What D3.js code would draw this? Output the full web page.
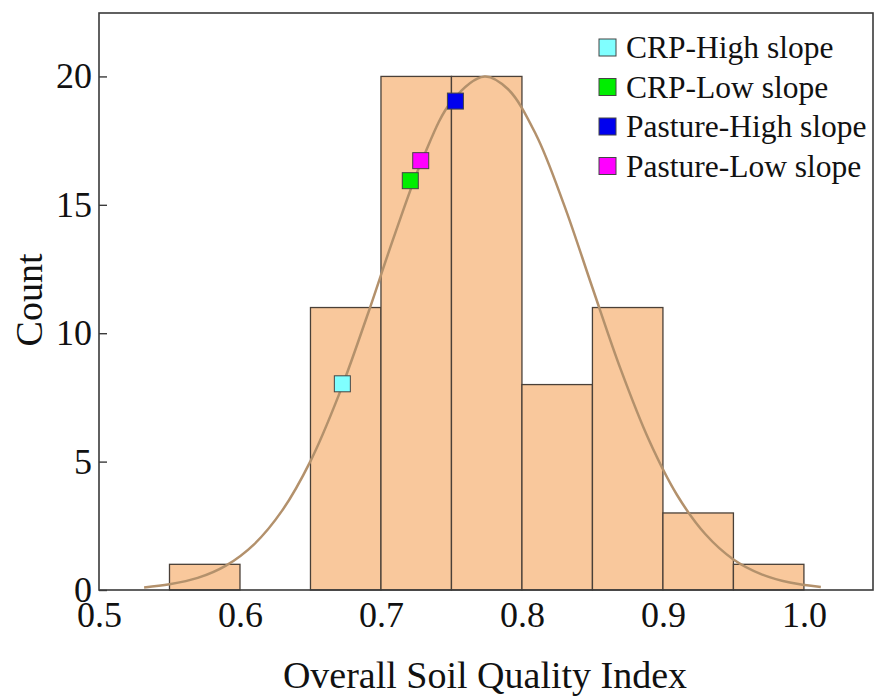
<!DOCTYPE html>
<meta charset="utf-8">
<style>
body { margin: 0; background: #fff; }
text { font-family: "Liberation Serif", "Times New Roman", serif; fill: #111; }
.bar { fill: #f9c89c; stroke: #4a4038; stroke-width: 1.3px; }
.fit { fill: none; stroke: #b3916c; stroke-width: 2.5px; }
.frame { fill: none; stroke: #3a3a3a; stroke-width: 1.6px; }
.mark { stroke: #444; stroke-width: 1px; }
</style>
<svg width="876" height="696"></svg>
<script src="https://d3js.org/d3.v7.min.js"></script>
<script>

// histogram bins (lower edges) and counts
var binStart = [0.55, 0.60, 0.65, 0.70, 0.75, 0.80, 0.85, 0.90, 0.95];
var counts   = [1, 0, 11, 20, 20, 8, 11, 3, 1];
var binWidth = 0.05;

// fitted curve
var curveX = [0.532, 0.55, 0.57, 0.59, 0.61, 0.63, 0.65, 0.67, 0.69, 0.71, 0.73, 0.75, 0.7735,
              0.79, 0.81, 0.83, 0.85, 0.87, 0.89, 0.91, 0.93, 0.95, 0.97, 0.99, 1.012];
var curveY = [0.10, 0.22, 0.47, 0.95, 1.78, 3.10, 5.02, 7.58, 10.64, 13.88, 16.85, 19.02, 20.0,
              19.51, 17.73, 14.98, 11.77, 8.60, 5.85, 3.70, 2.18, 1.19, 0.61, 0.29, 0.12];

// site means
var sites   = ["CRP-High slope", "CRP-Low slope", "Pasture-High slope", "Pasture-Low slope"];
var siteX   = [0.6726, 0.7208, 0.7528, 0.7282];
var siteY   = [8.03, 15.94, 19.04, 16.72];
var colors  = ["#80ffff", "#00ee00", "#0000ee", "#ff00ff"];

var xTicks = [0.5, 0.6, 0.7, 0.8, 0.9, 1.0];
var yTicks = [0, 5, 10, 15, 20];

var svg = d3.select("svg"),
    margin = {top: 13, right: 3, bottom: 106, left: 99},
    width = +svg.attr("width") - margin.left - margin.right,
    height = +svg.attr("height") - margin.top - margin.bottom,
    g = svg.append("g").attr("transform", "translate(" + margin.left + "," + margin.top + ")");

var x = d3.scaleLinear().domain([0.5, 1.049]).range([0, width]);
var y = d3.scaleLinear().domain([0, 22.47]).range([height, 0]);

// bars
g.selectAll(".bar")
  .data(counts.map(function(c, i) { return {x0: binStart[i], n: c}; }).filter(function(d) { return d.n > 0; }))
  .enter().append("rect")
  .attr("class", "bar")
  .attr("x", function(d) { return x(d.x0); })
  .attr("width", function(d) { return x(d.x0 + binWidth) - x(d.x0); })
  .attr("y", function(d) { return y(d.n); })
  .attr("height", function(d) { return y(0) - y(d.n); });

// fit line
var line = d3.line()
  .x(function(d) { return x(d[0]); })
  .y(function(d) { return y(d[1]); })
  .curve(d3.curveCatmullRom);

g.append("path")
  .attr("class", "fit")
  .attr("d", line(curveX.map(function(v, i) { return [v, curveY[i]]; })));

// site markers
var ms = 16;
g.selectAll(".mark")
  .data(sites)
  .enter().append("rect")
  .attr("class", "mark")
  .attr("x", function(d, i) { return x(siteX[i]) - ms / 2; })
  .attr("y", function(d, i) { return y(siteY[i]) - ms / 2; })
  .attr("width", ms)
  .attr("height", ms)
  .attr("fill", function(d, i) { return colors[i]; });

// frame
g.append("rect")
  .attr("class", "frame")
  .attr("width", width)
  .attr("height", height);

// y axis
var yAxis = g.append("g")
  .call(d3.axisLeft(y).tickValues(yTicks).tickSizeInner(-8).tickSizeOuter(0).tickPadding(7))
  .attr("font-family", "Liberation Serif")
  .attr("font-size", 36);
yAxis.select(".domain").remove();
yAxis.selectAll("line").attr("stroke", "#3a3a3a").attr("stroke-width", 1.4);
yAxis.selectAll("text").attr("fill", "#111");

// x axis
var xAxis = g.append("g")
  .attr("transform", "translate(0," + height + ")")
  .call(d3.axisBottom(x).tickValues(xTicks).tickFormat(d3.format(".1f")).tickSize(0).tickPadding(11))
  .attr("font-family", "Liberation Serif")
  .attr("font-size", 36);
xAxis.select(".domain").remove();
xAxis.selectAll("text").attr("fill", "#111");

// axis titles
svg.append("text")
  .attr("x", 485)
  .attr("y", 688)
  .attr("text-anchor", "middle")
  .style("font-size", "38px")
  .text("Overall Soil Quality Index");

svg.append("text")
  .attr("transform", "translate(42,300) rotate(-90)")
  .attr("text-anchor", "middle")
  .style("font-size", "38px")
  .text("Count");

// legend
var legend = svg.append("g").attr("transform", "translate(599,39)");
var row = legend.selectAll("g")
  .data(sites)
  .enter().append("g")
  .attr("transform", function(d, i) { return "translate(0," + i * 39.5 + ")"; });
row.append("rect")
  .attr("class", "mark")
  .attr("width", 17).attr("height", 17)
  .attr("fill", function(d, i) { return colors[i]; });
row.append("text")
  .attr("x", 27)
  .attr("y", 19)
  .style("font-size", "31.5px")
  .text(function(d) { return d; });

</script>
